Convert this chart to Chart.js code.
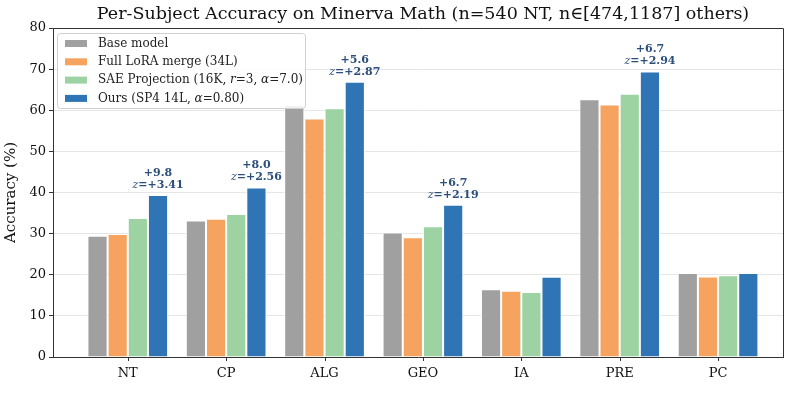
<!DOCTYPE html>
<html>
<head>
<meta charset="utf-8">
<script src="https://cdn.jsdelivr.net/npm/chart.js@4.4.1/dist/chart.umd.min.js"></script>
<style>
  html, body { margin: 0; padding: 0; background: #fff; }
  #wrap { width: 798px; height: 406px; }
</style>
</head>
<body>
<div id="wrap"><canvas id="myChart" width="798" height="406"></canvas></div>
<script>
  const subjects = ["NT", "CP", "ALG", "GEO", "IA", "PRE", "PC"];
  const baseModel = [29.5, 33.2, 61.3, 30.3, 16.5, 62.7, 20.4];
  const fullLora = [29.9, 33.6, 58.0, 29.1, 16.1, 61.4, 19.6];
  const saeProj = [33.8, 34.8, 60.5, 31.8, 15.8, 64.0, 19.9];
  const ours = [39.4, 41.2, 66.9, 37.0, 19.5, 69.4, 20.4];
  // подписи над нашими столбцами: прирост и z
  const deltaLabels = ["+9.8", "+8.0", "+5.6", "+6.7", null, "+6.7", null];
  const zLabels = ["+3.41", "+2.56", "+2.87", "+2.19", null, "+2.94", null];
  const yTicks = [0, 10, 20, 30, 40, 50, 60, 70, 80];

  const serif = "'DejaVu Serif', serif";
  const colors = ["#a0a0a0", "#f5a35e", "#9dd3a3", "#2f74b5"];

  // рисует строку из кусков с разными шрифтами
  function drawParts(ctx, parts, x, y, align) {
    let total = 0;
    parts.forEach((p) => { ctx.font = p.font; total += ctx.measureText(p.text).width; });
    let cx = align === "center" ? x - total / 2 : x;
    ctx.textAlign = "left";
    parts.forEach((p) => {
      ctx.font = p.font;
      ctx.fillText(p.text, cx, y);
      cx += ctx.measureText(p.text).width;
    });
  }

  const extras = {
    id: "extras",
    afterDatasetsDraw(chart) {
      const ctx = chart.ctx;
      const area = chart.chartArea;
      ctx.save();
      // рамка сверху и справа
      ctx.strokeStyle = "#333";
      ctx.lineWidth = 1;
      ctx.beginPath();
      ctx.moveTo(area.left, area.top + 0.5);
      ctx.lineTo(area.right + 0.5, area.top + 0.5);
      ctx.lineTo(area.right + 0.5, area.bottom);
      ctx.stroke();

      // засечки по оси x
      const xs = chart.scales.x;
      ctx.beginPath();
      subjects.forEach((_, i) => {
        const px = Math.round(xs.getPixelForValue(i)) + 0.5;
        ctx.moveTo(px, area.bottom);
        ctx.lineTo(px, area.bottom + 4);
      });
      ctx.stroke();

      // аннотации
      const meta = chart.getDatasetMeta(3);
      ctx.fillStyle = "#2b4e7b";
      ctx.textBaseline = "middle";
      meta.data.forEach((bar, i) => {
        if (!deltaLabels[i]) return;
        const bold = "bold 11px " + serif;
        drawParts(ctx, [{ text: deltaLabels[i], font: bold }], bar.x, bar.y - 22, "center");
        drawParts(ctx, [
          { text: "z", font: "italic 11px " + serif },
          { text: "=" + zLabels[i], font: bold },
        ], bar.x, bar.y - 10, "center");
      });

      // легенда
      const lx = 57, ly = 33, lw = 248, lh = 75;
      ctx.fillStyle = "rgba(255,255,255,0.85)";
      ctx.strokeStyle = "#d0d0d0";
      ctx.beginPath();
      ctx.roundRect(lx + 0.5, ly + 0.5, lw, lh, 3);
      ctx.fill();
      ctx.stroke();
      const font = "12px " + serif;
      const ifont = "italic 12px " + serif;
      const entries = [
        [{ text: "Base model", font }],
        [{ text: "Full LoRA merge (34L)", font }],
        [{ text: "SAE Projection (16K, ", font }, { text: "r", font: ifont }, { text: "=3, ", font },
         { text: "α", font: ifont }, { text: "=7.0)", font }],
        [{ text: "Ours (SP4 14L, ", font }, { text: "α", font: ifont }, { text: "=0.80)", font }],
      ];
      entries.forEach((parts, k) => {
        const y = ly + 10.5 + k * 18.3;
        ctx.fillStyle = colors[k];
        ctx.fillRect(lx + 8, y - 3.5, 22, 7);
        ctx.fillStyle = "#222";
        drawParts(ctx, parts, lx + 41, y, "left");
      });

      // заголовок
      ctx.fillStyle = "#111";
      ctx.font = "17.5px " + serif;
      ctx.textAlign = "center";
      ctx.fillText("Per-Subject Accuracy on Minerva Math (n=540 NT, n\u2208[474,1187] others)", 423, 14);
      ctx.restore();
    },
  };

  const mkSet = (label, data, color) => ({
    label: label,
    data: data.map((v, i) => ({ x: i, y: v })),
    backgroundColor: color,
    borderColor: "#ffffff",
    borderWidth: 1,
    categoryPercentage: 0.82,
    barPercentage: 1.0,
  });

  const ctx = document.getElementById("myChart").getContext("2d");
  const myChart = new Chart(ctx, {
    type: "bar",
    data: {
      datasets: [
        mkSet("Base model", baseModel, colors[0]),
        mkSet("Full LoRA merge (34L)", fullLora, colors[1]),
        mkSet("SAE Projection (16K, r=3, α=7.0)", saeProj, colors[2]),
        mkSet("Ours (SP4 14L, α=0.80)", ours, colors[3]),
      ],
    },
    options: {
      responsive: false,
      animation: false,
      devicePixelRatio: 1,
      layout: { padding: { top: 28, right: 15, left: 0, bottom: 0 } },
      plugins: {
        legend: { display: false },
        tooltip: { enabled: false },
      },
      scales: {
        x: {
          type: "linear",
          min: -0.76,
          max: 6.66,
          offset: false,
          afterBuildTicks: (s) => { s.ticks = subjects.map((_, i) => ({ value: i })); },
          grid: { drawOnChartArea: false, drawTicks: false, offset: false },
          border: { color: "#333" },
          ticks: {
            color: "#111",
            font: { family: serif, size: 13 },
            padding: 9,
            callback: (v) => subjects[v],
          },
          afterFit: (s) => { s.height = 49; },
        },
        y: {
          min: 0,
          max: 80,
          afterBuildTicks: (s) => { s.ticks = yTicks.map((v) => ({ value: v })); },
          grid: { color: "#e6e6e6", tickLength: 4, tickColor: "#333" },
          border: { color: "#333" },
          ticks: { color: "#111", font: { family: serif, size: 13 }, padding: 3 },
          title: { display: true, text: "Accuracy (%)", color: "#111", font: { family: serif, size: 15 }, padding: 2 },
          afterFit: (s) => { s.width = 53; },
        },
      },
    },
    plugins: [extras],
  });
</script>
</body>
</html>
